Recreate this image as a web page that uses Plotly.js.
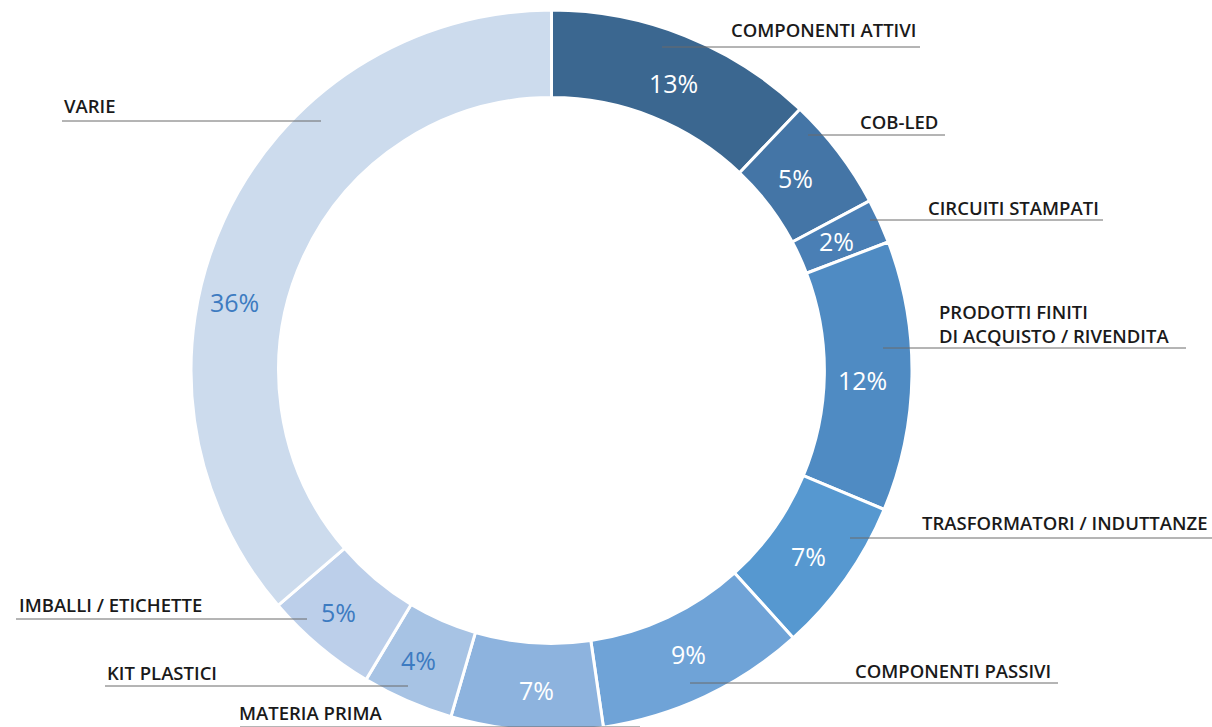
<!DOCTYPE html>
<html>
<head>
<meta charset="utf-8">
<script src="https://cdn.plot.ly/plotly-3.0.1.min.js"></script>
<style>
html,body{margin:0;padding:0;overflow:hidden;background:#fff;width:1212px;height:727px;}
#chart{width:1212px;height:743px;}
</style>
</head>
<body>
<div id="chart"></div>
<script>
// ---- data ----
const categories = ["COMPONENTI ATTIVI","COB-LED","CIRCUITI STAMPATI","PRODOTTI FINITI<br>DI ACQUISTO / RIVENDITA","TRASFORMATORI / INDUTTANZE","COMPONENTI PASSIVI","MATERIA PRIMA","KIT PLASTICI","IMBALLI / ETICHETTE","VARIE"];
// printed percentages
const percentLabels = [13, 5, 2, 12, 7, 9, 7, 4, 5, 36];
// arc shares as drawn in the picture (measured slice angles, % of the ring)
const sliceShares = [12.1, 5.1, 2.0, 12.1, 7.0, 9.4, 6.8, 4.1, 5.1, 36.3];

// ---- style ----
const colors = ["#3b6790","#4475a6","#4a7fb5","#4f8bc3","#5698d0","#6fa3d7","#8db3de","#a7c3e4","#bccfea","#ccdbed"];
const textColors = ["#ffffff","#ffffff","#ffffff","#ffffff","#ffffff","#ffffff","#ffffff","#3d7bc1","#3d7bc1","#3d7bc1"];

// category label layout (page pixels): [text x, text y, anchor, line x0, line x1, line y]
const labelLayout = [
  [918, 30, "right", 662, 920, 47],
  [940, 121, "right", 808, 945, 135],
  [1101, 207, "right", 870, 1103, 220],
  [937, 323.5, "left", 883, 1186, 348],
  [1210, 522, "right", 850, 1212, 538],
  [1053, 670, "right", 690, 1058, 683],
  [237, 712, "left", 240, 640, 727],
  [105, 672, "left", 105, 408, 686],
  [17, 604, "left", 16, 307, 619],
  [62, 105, "left", 62, 321, 121]
];
// percent label positions (page pixels, centre)
const pctLayout = [[673,83],[795,178],[836,241],[862,380],[808,556],[688,654],[536,690],[418,660],[338,612],[234,302]];

const W = 1212, H = 743, MT = 10, MB = 12;
const px = x => x / W;
const py = y => (H - MB - y) / (H - MT - MB);

const annotations = [], shapes = [];
categories.forEach((c, i) => {
  const L = labelLayout[i];
  annotations.push({
    text: c, xref: "paper", yref: "paper", x: px(L[0]), y: py(L[1]),
    xanchor: L[2], yanchor: "middle", showarrow: false, align: "left",
    font: {family: "Open Sans, sans-serif", size: 18.5, color: "#1a1a1a", weight: 600}
  });
  shapes.push({
    type: "line", xref: "paper", yref: "paper",
    x0: px(L[3]), x1: px(L[4]), y0: py(L[5]), y1: py(L[5]),
    line: {color: "#6b6b6b", width: 1}
  });
  const P = pctLayout[i];
  annotations.push({
    text: percentLabels[i] + "%", xref: "paper", yref: "paper", x: px(P[0]), y: py(P[1]),
    xanchor: "center", yanchor: "middle", showarrow: false,
    font: {family: "Open Sans, sans-serif", size: 25, color: textColors[i], weight: 400}
  });
});

const trace = {
  type: "pie",
  labels: categories,
  values: sliceShares,
  sort: false,
  direction: "clockwise",
  rotation: 0,
  hole: 0.757,
  marker: {colors: colors, line: {color: "#ffffff", width: 3}},
  textinfo: "none",
  hoverinfo: "label",
  showlegend: false,
  domain: {x: [px(191), px(912)], y: [0, 1]}
};

Plotly.newPlot("chart", [trace], {
  width: W, height: H,
  margin: {l: 0, r: 0, t: MT, b: MB, pad: 0},
  paper_bgcolor: "#ffffff",
  plot_bgcolor: "#ffffff",
  showlegend: false,
  annotations: annotations,
  shapes: shapes
}, {displayModeBar: false, staticPlot: true});
</script>
</body>
</html>
